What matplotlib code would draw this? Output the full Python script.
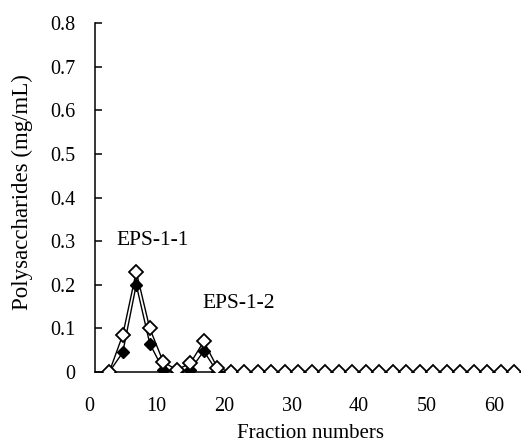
import matplotlib
matplotlib.use('Agg')
import matplotlib.pyplot as plt
import numpy as np

plt.rcParams['font.family'] = ['Liberation Serif', 'DejaVu Serif']

# data
fractions = list(range(3, 64, 2))
eps_open = [0, 0.085, 0.23, 0.10, 0.023, 0.005, 0.02, 0.07, 0.01] + [0] * 22
eps_filled = [0, 0.045, 0.20, 0.065, 0.005, 0, 0.005, 0.048, 0] + [0] * 22
x_ticks = [0, 10, 20, 30, 40, 50, 60]
y_ticks = [0, 0.1, 0.2, 0.3, 0.4, 0.5, 0.6, 0.7, 0.8]
y_tick_labels = ['0', '0.1', '0.2', '0.3', '0.4', '0.5', '0.6', '0.7', '0.8']

fig = plt.figure(figsize=(5.21, 4.46), dpi=100)
ax = fig.add_axes([0.1708, 0.1659, 0.827, 0.7825])

ax.plot(fractions, eps_filled, color='black', linewidth=1.0, marker='D',
        markersize=6, markerfacecolor='black', markeredgecolor='black', zorder=3)
ax.plot(fractions, eps_open, color='black', linewidth=1.0, marker='D',
        markersize=7, markerfacecolor='white', markeredgecolor='black',
        markeredgewidth=1.3, zorder=4)

ax.text(4.0, 0.291, 'EPS-1-1', fontsize=15.5, va='baseline', ha='left')
ax.text(16.8, 0.147, 'EPS-1-2', fontsize=15.5, va='baseline', ha='left')

ax.set_xlim(0, 63.8)
ax.set_ylim(0, 0.8)
ax.set_xticks(x_ticks)
ax.set_yticks(y_ticks)
ax.set_yticklabels(y_tick_labels)

ax.spines['top'].set_visible(False)
ax.spines['right'].set_visible(False)
ax.spines['left'].set_position(('data', 0.9))
ax.spines['bottom'].set_bounds(0.9, 63.8)
for s in ['left', 'bottom']:
    ax.spines[s].set_linewidth(1.1)

ax.tick_params(axis='x', length=0, pad=18, labelsize=14.5)
ax.tick_params(axis='y', direction='in', length=5, width=1.1, pad=14, labelsize=14.5)
ax.set_ylabel('Polysaccharides (mg/mL)', fontsize=16.5)
ax.set_xlabel('Fraction numbers', fontsize=15)
ax.yaxis.set_label_coords(-0.13, 0.515)
ax.xaxis.set_label_coords(0.515, -0.15)

plt.savefig('out.png', dpi=100)
